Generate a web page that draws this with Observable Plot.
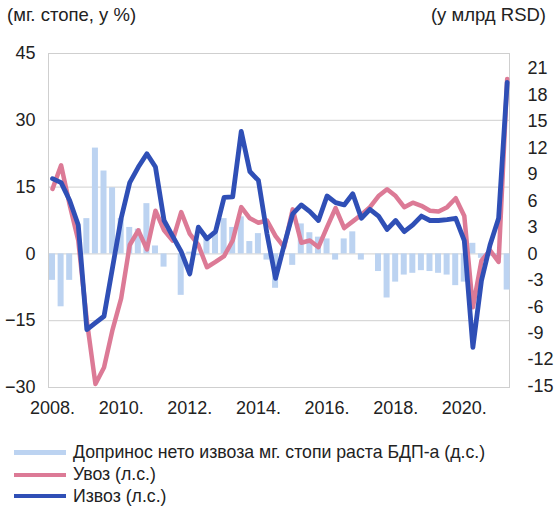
<!DOCTYPE html>
<html><head><meta charset="utf-8">
<script src="https://cdn.jsdelivr.net/npm/d3@7"></script>
<script src="https://cdn.jsdelivr.net/npm/@observablehq/plot@0.6"></script>
<style>
body{margin:0;background:#fff;font-family:"Liberation Sans",Arial,sans-serif;color:#222;}
#wrap{width:555px;position:relative;}
#head{position:relative;height:30px;font-size:18.5px;}
#head .l{position:absolute;left:7px;top:4px;}
#head .r{position:absolute;right:9px;top:4px;}
#legend{padding-top:15px;font-size:17.7px;}
.row{display:flex;align-items:center;height:21.8px;white-space:nowrap;}
.sw{width:52px;margin-left:14px;margin-right:7px;}
</style></head><body>
<div id="wrap">
 <div id="head"><span class="l">(мг. стопе, у %)</span><span class="r">(у млрд RSD)</span></div>
 <div id="chart"></div>
 <div id="legend"></div>
</div>
<script>
// Quarterly data, 2008 Q1 – 2021 Q2
const firstYear = 2008;
const seriesNames = ["Допринос нето извоза мг. стопи раста БДП-а (д.с.)", "Увоз (л.с.)", "Извоз (л.с.)"];
// Contribution of net exports (right axis, bln RSD)
const netExports = [-3, -6, -3, 0, 4, 12, 9.4, 7.5, 4, 3, 2.8, 5.7, 0.9, -1.5, 0, -4.7,
  0.2, -0.2, 1.8, 2.3, 4, 3, 4.2, 1.4, 2.3, -0.7, -3.9, 0, -1.3, 3.4, 2.4, 1.9,
  1.7, -0.7, 1.7, 2.5, -0.7, 0, -2, -5, -3.2, -2.4, -2.2, -1.9, -2, -2.2, -2.4, -3.6,
  -3.2, 1.2, -0.5, -0.3, -0.5, -4.1];
// Imports, y/y % (left axis)
const imports = [14.6, 19.9, 11, 3, -15, -29.2, -25.5, -17, -10, 2, 5.3, 1, 9.7, 5.3, 3, 9.4,
  4.5, 2, -3, -1.8, -0.5, 3, 10.5, 8, 7, 7.5, 4, 1.5, 10, 2.5, 3, 1.5,
  6, 10.3, 5.8, 7.3, 8.8, 10.5, 13, 14.5, 13, 10.5, 11.5, 10.8, 9.7, 9.5, 10.5, 12.5,
  8.5, -12, -1.5, 0.8, -1.8, 39.3];
// Exports, y/y % (left axis)
const exports = [16.9, 16, 12, 6.5, -17, -15.5, -14, -3, 8, 16, 19.5, 22.5, 19.5, 7.5, 4, 0.5,
  -4.5, 6, 3.4, 5, 12.7, 12.8, 27.5, 18.5, 16.5, 4.5, -5.5, 2, 9, 11, 9.5, 7.5,
  13, 11.5, 11, 13.5, 8, 10, 8.5, 5.5, 7.5, 5, 6.5, 8.5, 7.5, 7.5, 7.7, 8,
  3, -21, -6, 2, 8, 38.5];
const xTickYears = [2008, 2010, 2012, 2014, 2016, 2018, 2020];
const leftTicks = [-30, -15, 0, 15, 30, 45];
const rightTicks = [-15, -12, -9, -6, -3, 0, 3, 6, 9, 12, 15, 18, 21];
const rightToLeft = 1.98; // right-axis unit expressed in left-axis units

const colors = {bar: "#bcd3f1", imp: "#dc7a96", exp: "#2f4fb6"};

const rows = netExports.map((v, i) => ({i, bar: v, imp: imports[i], exp: exports[i]}));

const chart = Plot.plot({
  width: 555,
  height: 397,
  marginTop: 23,
  marginBottom: 40,
  marginLeft: 48,
  marginRight: 46,
  style: {fontFamily: "'Liberation Sans', Arial, sans-serif", fontSize: "18px", color: "#222", background: "#fff"},
  x: {domain: [-0.47, 53.27]},
  y: {domain: [-30, 45]},
  marks: [
    Plot.gridY(leftTicks, {stroke: "#cfcfcf", strokeOpacity: 1}),
    Plot.frame({stroke: "#cfcfcf"}),
    Plot.rectY(rows, {x1: d => d.i - 0.35, x2: d => d.i + 0.35, y1: 0, y2: d => d.bar * rightToLeft, fill: colors.bar}),
    Plot.lineY(rows, {x: "i", y: "imp", stroke: colors.imp, strokeWidth: 4.5, strokeLinejoin: "round", strokeLinecap: "round"}),
    Plot.lineY(rows, {x: "i", y: "exp", stroke: colors.exp, strokeWidth: 4.8, strokeLinejoin: "round", strokeLinecap: "round"}),
    Plot.axisY(leftTicks, {anchor: "left", tickSize: 0, tickPadding: 13, label: null}),
    Plot.axisY(rightTicks.map(v => v * rightToLeft), {anchor: "right", tickSize: 0, tickPadding: 18, label: null, tickFormat: v => String(Math.round(v / rightToLeft))}),
    Plot.axisX(xTickYears.map(y => (y - firstYear) * 4), {anchor: "bottom", tickSize: 0, tickPadding: 14, label: null, tickFormat: v => (firstYear + v / 4) + "."})
  ]
});
document.getElementById("chart").appendChild(chart);

const legend = document.getElementById("legend");
[[seriesNames[0], colors.bar, 5], [seriesNames[1], colors.imp, 4], [seriesNames[2], colors.exp, 4]].forEach(([name, c, h]) => {
  const r = document.createElement("div");
  r.className = "row";
  const s = document.createElement("span");
  s.className = "sw";
  s.style.height = h + "px";
  s.style.background = c;
  const t = document.createElement("span");
  t.textContent = name;
  r.appendChild(s); r.appendChild(t);
  legend.appendChild(r);
});
</script>
</body></html>
